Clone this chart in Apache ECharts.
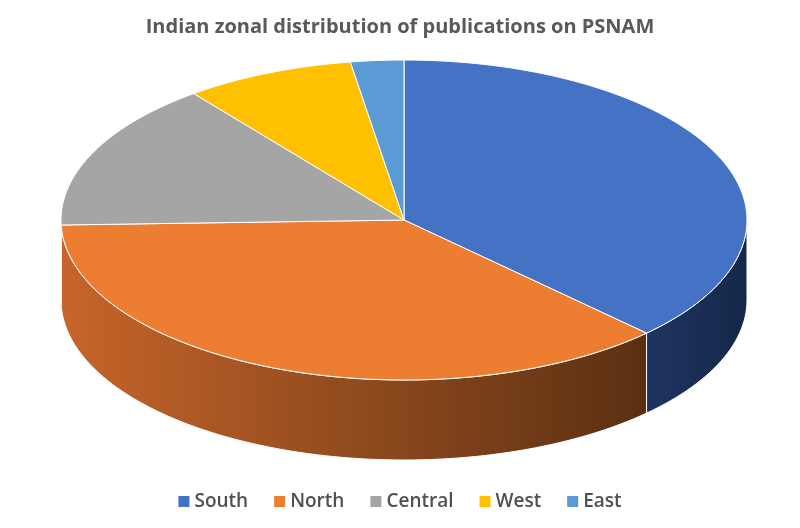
<!DOCTYPE html>
<html><head><meta charset="utf-8">
<script src="https://cdn.jsdelivr.net/npm/echarts@6/dist/echarts.min.js"></script>
<style>html,body{margin:0;background:#fff}#c{width:800px;height:528px}</style>
</head><body><div id="c"></div>
<script>
const zones = ['South', 'North', 'Central', 'West', 'East'];
const shares = [37.5, 37, 15, 8, 2.5];
const topColors = ['#4472c4', '#ed7d31', '#a5a5a5', '#ffc000', '#5b9bd5'];
const sideColors = [['#1f3461', '#15284a'], ['#c7652a', '#5a3012'], ['#7a7a7a', '#6a6a6a'], ['#a07800', '#a07800'], ['#3a6d9c', '#3a6d9c']];

const cx = 404, cy = 220, rx = 343, ry = 160, depth = 80;
const total = shares.reduce((a, b) => a + b, 0);
const starts = []; let acc = 0;
shares.forEach(v => { starts.push(acc / total * 360); acc += v; });

// punkt auf der ellipse, winkel im uhrzeigersinn ab 12 uhr
const pt = (deg, dy) => {
    const r = deg * Math.PI / 180;
    return [cx + rx * Math.sin(r), cy - ry * Math.cos(r) + (dy || 0)];
};
const arc = (a, b, dy) => {
    const pts = []; const n = Math.max(2, Math.ceil((b - a) / 1.5));
    for (let i = 0; i <= n; i++) pts.push(pt(a + (b - a) * i / n, dy));
    return pts;
};

const series = zones.map((name, i) => ({
    name, type: 'custom', coordinateSystem: 'none',
    itemStyle: { color: topColors[i] },
    data: [[shares[i]]],
    renderItem: () => {
        const a = starts[i], b = a + shares[i] / total * 360;
        const children = [];
        const fa = Math.max(a, 90), fb = Math.min(b, 270);
        if (fb > fa) {
            const top = arc(fa, fb, 0), bot = arc(fa, fb, depth).reverse();
            children.push({ type: 'polygon', shape: { points: top.concat(bot) },
                style: { fill: new echarts.graphic.LinearGradient(0, 0, 1, 0, [{ offset: 0, color: sideColors[i][0] }, { offset: 1, color: sideColors[i][1] }]), stroke: '#fff', lineWidth: 1 } });
        }
        children.push({ type: 'polygon', shape: { points: [[cx, cy]].concat(arc(a, b, 0)) },
            style: { fill: topColors[i], stroke: '#fff', lineWidth: 1 } });
        return { type: 'group', children };
    }
}));

const chart = echarts.init(document.getElementById('c'));
chart.setOption({
    animation: false,
    title: { text: 'Indian zonal distribution of publications on PSNAM', left: 'center', top: 12,
        textStyle: { fontFamily: 'Open Sans', fontSize: 20, fontWeight: 'bold', color: '#595959' } },
    legend: { data: zones, bottom: 12, left: 'center', icon: 'rect', itemWidth: 11, itemHeight: 11, itemGap: 26,
        textStyle: { fontFamily: 'Open Sans', fontSize: 19, fontWeight: 600, color: '#505050' } },
    series
});
</script></body></html>
